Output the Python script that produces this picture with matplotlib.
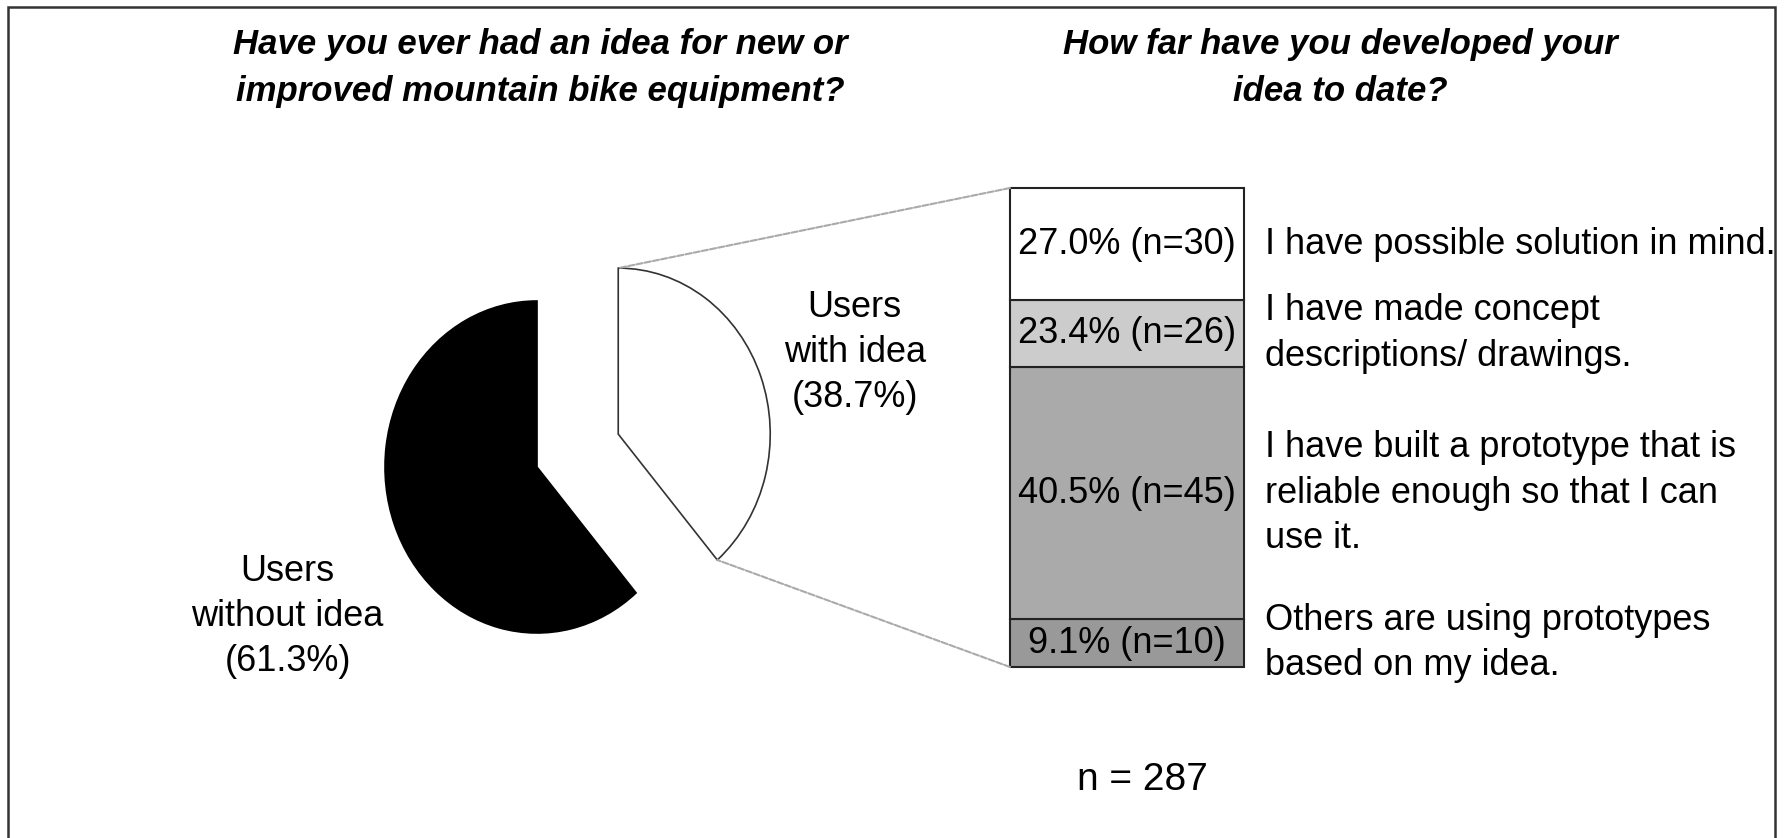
import matplotlib
matplotlib.use("Agg")
import matplotlib.pyplot as plt
from matplotlib.patches import ConnectionPatch, Rectangle
import numpy as np

plt.rcParams['font.family'] = ['Liberation Sans', 'DejaVu Sans']

# pie data
pie_vals = [61.3, 38.7]
pie_labels = ['Users\nwithout idea\n(61.3%)', 'Users\nwith idea\n(38.7%)']
pie_colors = ['black', 'white']

# stacked bar, listed bottom to top
bar_labels = ['9.1% (n=10)', '40.5% (n=45)', '23.4% (n=26)', '27.0% (n=30)']
# segment heights as drawn in the picture (share of the bar, %)
bar_heights = [10.0, 52.6, 14.0, 23.4]
bar_colors = ['#999999', '#aaaaaa', '#cccccc', 'white']
bar_texts = ['Others are using prototypes\nbased on my idea.',
             'I have built a prototype that is\nreliable enough so that I can\nuse it.',
             'I have made concept\ndescriptions/ drawings.',
             'I have possible solution in mind.']

title_left = 'Have you ever had an idea for new or\nimproved mountain bike equipment?'
title_right = 'How far have you developed your\nidea to date?'
n_text = 'n = 287'

W, H = 1788, 838
fig = plt.figure(figsize=(W / 100, H / 100), dpi=100)


def px_axes(left, top, width, height):
    return fig.add_axes([left / W, 1 - (top + height) / H, width / W, height / H])


# pie axes: 1 data unit = 152 px wide, 166 px tall, centre at (537, 467)
rx, ry = 152, 166
ax_pie = px_axes(537 - 2 * rx, 467 - 1.4 * ry, 4 * rx, 2.8 * ry)
wedges, _ = ax_pie.pie(pie_vals, colors=pie_colors, startangle=90,
                       explode=[0, 0.57], radius=1,
                       wedgeprops=dict(edgecolor='#333333', linewidth=1.2))
wedges[0].set_edgecolor('black')
ax_pie.set_aspect('auto')
ax_pie.set_xlim(-2, 2)
ax_pie.set_ylim(-1.4, 1.4)
ax_pie.axis('off')

ax_pie.text(-1.64, -0.90, pie_labels[0], ha='center', va='center',
            fontsize=26, linespacing=1.38)
ax_pie.text(2.09, 0.69, pie_labels[1], ha='center', va='center',
            fontsize=26, linespacing=1.38, clip_on=False)

# bar axes
ax_bar = px_axes(1010, 188, 234, 479)
bottom = 0
for h, c, lab, txt in zip(bar_heights, bar_colors, bar_labels, bar_texts):
    ax_bar.bar(0, h, width=1, bottom=bottom, color=c, edgecolor='#222222',
               linewidth=1.5, clip_on=False)
    ax_bar.text(0, bottom + h / 2, lab, ha='center', va='center', fontsize=26)
    ax_bar.text(0.59, bottom + h / 2, txt, ha='left', va='center',
                fontsize=26, linespacing=1.38, clip_on=False)
    bottom += h
ax_bar.set_xlim(-0.5, 0.5)
ax_bar.set_ylim(0, sum(bar_heights))
ax_bar.axis('off')

# connector lines between exploded wedge and bar
w = wedges[1]
cx, cy = w.center
for theta, ybar in [(w.theta2, sum(bar_heights)), (w.theta1, 0)]:
    x = cx + w.r * np.cos(np.deg2rad(theta))
    y = cy + w.r * np.sin(np.deg2rad(theta))
    con = ConnectionPatch(xyA=(-0.5, ybar), coordsA=ax_bar.transData,
                          xyB=(x, y), coordsB=ax_pie.transData,
                          color='#aaaaaa', linewidth=1.5, linestyle=(0, (3, 1)))
    fig.add_artist(con)

# titles
fig.text(540 / W, 1 - 68 / H, title_left, ha='center', va='center',
         fontsize=25, fontweight='bold', fontstyle='italic', linespacing=1.52)
fig.text(1340 / W, 1 - 68 / H, title_right, ha='center', va='center',
         fontsize=25, fontweight='bold', fontstyle='italic', linespacing=1.52)

fig.text(1142 / W, 1 - 780 / H, n_text, ha='center', va='center', fontsize=28)

# outer frame (bottom edge falls outside the image)
fig.patches.append(Rectangle((8 / W, -0.02), (1775 - 8) / W, 1.02 - 7 / H,
                             transform=fig.transFigure, fill=False,
                             edgecolor='#333333', linewidth=1.8))

fig.savefig('out.png', dpi=100)
